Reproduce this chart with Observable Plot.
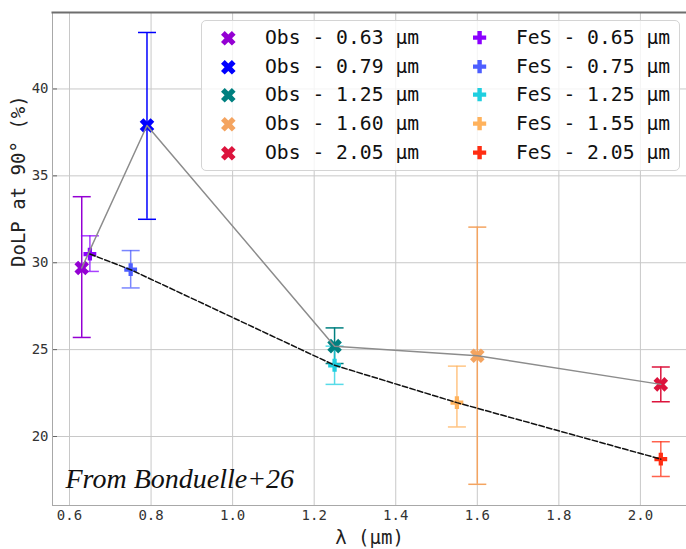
<!DOCTYPE html>
<html><head><meta charset="utf-8">
<script src="https://cdn.jsdelivr.net/npm/d3@7"></script>
<script src="https://cdn.jsdelivr.net/npm/@observablehq/plot@0.6"></script>
<style>
body{margin:0;background:#fff;}
#wrap{position:relative;width:686px;height:549px;overflow:hidden;}
#legend{position:absolute;left:201px;top:20px;width:477px;height:149px;border:1px solid #d4d4d4;border-radius:5px;background:rgba(255,255,255,0.8);font-family:"DejaVu Sans Mono",monospace;font-size:19.7px;color:#111;}
#legend svg{position:absolute;overflow:visible;}
#legend span{position:absolute;line-height:24px;white-space:pre;}
</style></head>
<body><div id="wrap"><div id="legend"></div></div>
<script>
// ---- data ----
const obsLambda = [0.63, 0.79, 1.25, 1.60, 2.05];
const obsDoLP   = [29.7, 37.9, 25.2, 24.65, 23.0];
const obsLow    = [25.7, 32.5, 24.2, 17.25, 22.0];
const obsHigh   = [33.8, 43.25, 26.25, 32.05, 24.0];
const obsColors = ["#9400d3", "#0000ff", "#008080", "#f4a460", "#dc143c"];
const obsLabels = ["Obs - 0.63 µm", "Obs - 0.79 µm", "Obs - 1.25 µm", "Obs - 1.60 µm", "Obs - 2.05 µm"];

const fesLambda = [0.65, 0.75, 1.25, 1.55, 2.05];
const fesDoLP   = [30.5, 29.6, 24.1, 21.95, 18.7];
const fesLow    = [29.5, 28.55, 23.0, 20.55, 17.7];
const fesHigh   = [31.55, 30.7, 25.2, 24.05, 19.7];
const fesColors = ["#8b00ff", "#4d5eff", "#1fcfe0", "#ffb25c", "#ff2d12"];
const fesLabels = ["FeS - 0.65 µm", "FeS - 0.75 µm", "FeS - 1.25 µm", "FeS - 1.55 µm", "FeS - 2.05 µm"];

const xTicks = [0.6, 0.8, 1.0, 1.2, 1.4, 1.6, 1.8, 2.0];
const yTicks = [20, 25, 30, 35, 40];
const xLabel = "λ (µm)";
const yLabel = "DoLP at 90° (%)";
const note = "From Bonduelle+26";

const obs = obsLambda.map((x, i) => ({x, y: obsDoLP[i], lo: obsLow[i], hi: obsHigh[i], c: obsColors[i]}));
const fes = fesLambda.map((x, i) => ({x, y: fesDoLP[i], lo: fesLow[i], hi: fesHigh[i], c: fesColors[i]}));

// ---- symbols ----
function plusPts(r, w) {
  return [[w,-r],[w,-w],[r,-w],[r,w],[w,w],[w,r],[-w,r],[-w,w],[-r,w],[-r,-w],[-w,-w],[-w,-r]];
}
function plusShape(r) { return plusPts(r, r / 3); }
function xShape(r) {
  const w = r * 0.36, R = r * Math.SQRT2 - w, c = Math.SQRT1_2;
  return plusPts(R, w).map(([a, b]) => [(a - b) * c, (a + b) * c]);
}
function mkSymbol(shapeFn) {
  return {draw(ctx, size) {
    const r = Math.sqrt(size / Math.PI);
    const p = shapeFn(r);
    ctx.moveTo(p[0][0], p[0][1]);
    for (let i = 1; i < p.length; i++) ctx.lineTo(p[i][0], p[i][1]);
    ctx.closePath();
  }};
}
const symX = mkSymbol(xShape), symP = mkSymbol(plusShape);
const symCap = {draw(ctx, size) { const r = Math.sqrt(size / Math.PI); ctx.moveTo(-r, 0); ctx.lineTo(r, 0); }};

const W = 686, H = 549, mL = 52, mR = 0, mT = 12, mB = 44;
const frameW = W - mL - mR, frameH = H - mT - mB;

const chart = Plot.plot({
  width: W, height: H,
  marginLeft: mL, marginRight: mR, marginTop: mT, marginBottom: mB,
  x: {domain: [0.5583, 2.113]},
  y: {domain: [16.03, 44.4]},
  style: {fontFamily: "DejaVu Sans Mono, monospace", fontSize: "14px", color: "#333", background: "#fff"},
  marks: [
    Plot.gridX(xTicks, {stroke: "#c8c8c8", strokeOpacity: 1}),
    Plot.gridY(yTicks, {stroke: "#c8c8c8", strokeOpacity: 1}),
    Plot.gridY(yTicks, {stroke: "#666", strokeOpacity: 1, insetRight: frameW - 5}),
    Plot.frame({anchor: "left", stroke: "#a8a8a8"}),
    Plot.frame({anchor: "bottom", stroke: "#a8a8a8"}),
    Plot.frame({anchor: "top", stroke: "#6e6e6e", strokeWidth: 2}),
    Plot.axisX(xTicks, {tickSize: 0, tickPadding: 5, tickFormat: d3.format(".1f"), label: null, fill: "#333"}),
    Plot.axisY(yTicks, {tickSize: 0, tickPadding: 4, label: null, fill: "#333"}),
    Plot.text([xLabel], {frameAnchor: "bottom", dy: 32, fontSize: 19, fill: "#222", lineAnchor: "middle"}),
    Plot.text([yLabel], {frameAnchor: "left", dx: -34, dy: 8, rotate: -90, fontSize: 19, fill: "#222", lineAnchor: "middle"}),
    Plot.text([note], {frameAnchor: "bottom-left", dx: 13, dy: -18, textAnchor: "start", lineAnchor: "bottom",
      fontFamily: "Liberation Serif, serif", fontStyle: "italic", fontSize: 28, fill: "#111"}),
    // error bars
    Plot.ruleX(obs, {x: "x", y1: "lo", y2: "hi", stroke: "c", strokeWidth: 1.5}),
    Plot.dot(obs, {x: "x", y: "lo", symbol: symCap, r: 9, stroke: "c", fill: "none", strokeWidth: 1.5}),
    Plot.dot(obs, {x: "x", y: "hi", symbol: symCap, r: 9, stroke: "c", fill: "none", strokeWidth: 1.5}),
    Plot.ruleX(fes, {x: "x", y1: "lo", y2: "hi", stroke: "c", strokeWidth: 1.5, strokeOpacity: 0.75}),
    Plot.dot(fes, {x: "x", y: "lo", symbol: symCap, r: 9, stroke: "c", fill: "none", strokeWidth: 1.5, strokeOpacity: 0.75}),
    Plot.dot(fes, {x: "x", y: "hi", symbol: symCap, r: 9, stroke: "c", fill: "none", strokeWidth: 1.5, strokeOpacity: 0.75}),
    // markers
    Plot.dot(obs, {x: "x", y: "y", symbol: symX, r: 7.3, fill: "c", stroke: "none"}),
    Plot.dot(fes, {x: "x", y: "y", symbol: symP, r: 6.4, fill: "c", stroke: "none"}),
    // connecting lines
    Plot.line(obs, {x: "x", y: "y", stroke: "#8c8c8c", strokeWidth: 1.5}),
    Plot.line(fes, {x: "x", y: "y", stroke: "#111", strokeWidth: 1.5, strokeDasharray: "5.5,2.4"})
  ]
});
chart.style.position = "absolute";
chart.style.left = "0px";
chart.style.top = "0px";
const wrap = document.getElementById("wrap");
wrap.insertBefore(chart, wrap.firstChild);

// ---- legend ----
const leg = document.getElementById("legend");
const rowY = [17, 46, 74, 103, 132];
function addItem(shapeFn, r, color, label, mx, tx, cy) {
  const ns = "http://www.w3.org/2000/svg";
  const s = document.createElementNS(ns, "svg");
  s.setAttribute("width", 2 * r); s.setAttribute("height", 2 * r);
  s.setAttribute("viewBox", `${-r} ${-r} ${2 * r} ${2 * r}`);
  s.style.left = (mx - r) + "px"; s.style.top = (cy - r) + "px";
  const p = document.createElementNS(ns, "path");
  const pts = shapeFn(r);
  p.setAttribute("d", "M" + pts.map(q => q.join(",")).join("L") + "Z");
  p.setAttribute("fill", color);
  s.appendChild(p);
  leg.appendChild(s);
  const t = document.createElement("span");
  t.textContent = label;
  t.style.left = tx + "px"; t.style.top = (cy - 12) + "px";
  leg.appendChild(t);
}
obsLabels.forEach((l, i) => addItem(xShape, 7.3, obsColors[i], l, 26, 63, rowY[i]));
fesLabels.forEach((l, i) => addItem(plusShape, 6.6, fesColors[i], l, 278, 314, rowY[i]));
</script>
</body></html>
